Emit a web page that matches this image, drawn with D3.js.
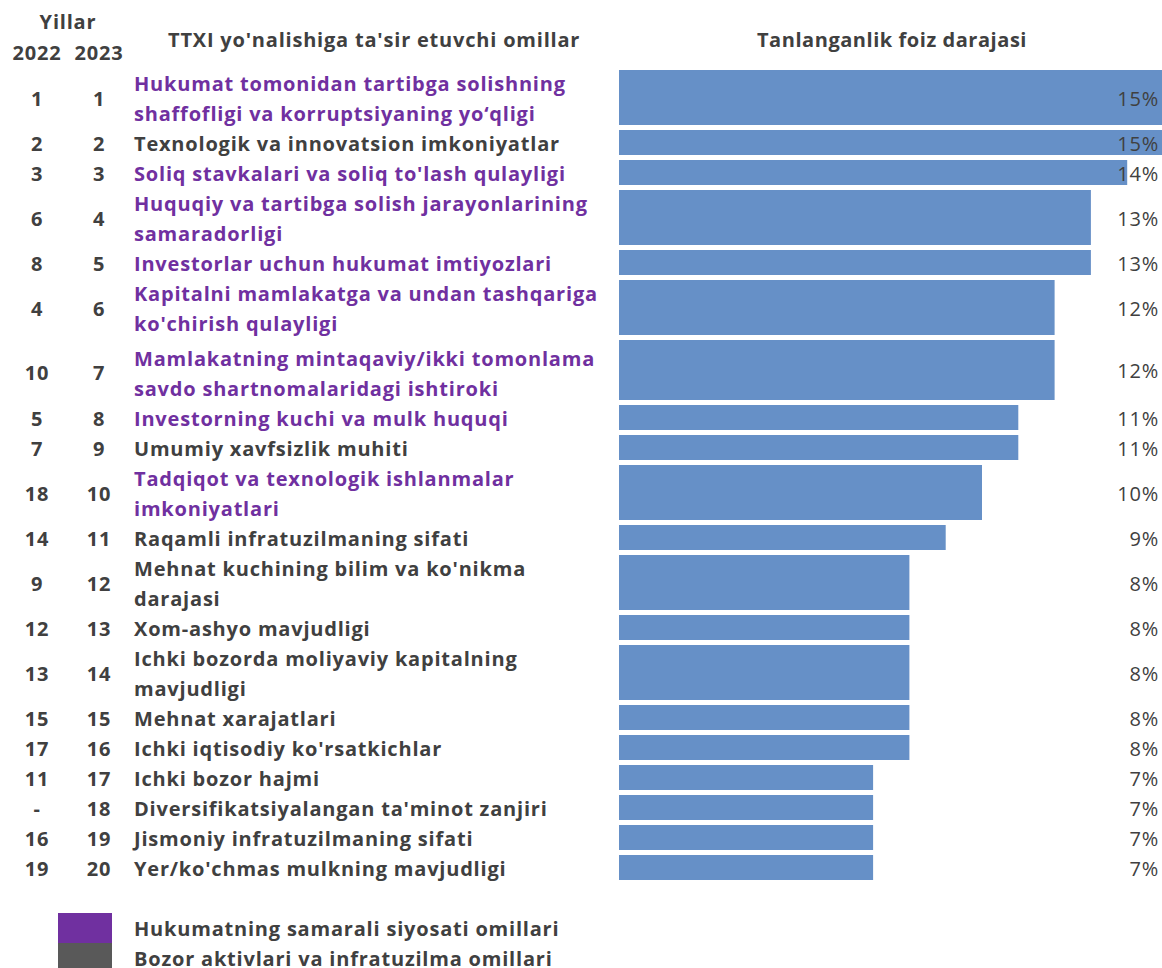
<!DOCTYPE html>
<html><head><meta charset="utf-8">
<script src="https://cdn.jsdelivr.net/npm/d3@7"></script>
<style>body{margin:0;background:#fff;} svg{display:block;}</style>
</head><body>
<svg id="chart" width="1162" height="968"></svg>
<script>
const labels = [
  "Hukumat tomonidan tartibga solishning\nshaffofligi va korruptsiyaning yo‘qligi",
  "Texnologik va innovatsion imkoniyatlar",
  "Soliq stavkalari va soliq to'lash qulayligi",
  "Huquqiy va tartibga solish jarayonlarining\nsamaradorligi",
  "Investorlar uchun hukumat imtiyozlari",
  "Kapitalni mamlakatga va undan tashqariga\nko'chirish qulayligi",
  "Mamlakatning mintaqaviy/ikki tomonlama\nsavdo shartnomalaridagi ishtiroki",
  "Investorning kuchi va mulk huquqi",
  "Umumiy xavfsizlik muhiti",
  "Tadqiqot va texnologik ishlanmalar\nimkoniyatlari",
  "Raqamli infratuzilmaning sifati",
  "Mehnat kuchining bilim va ko'nikma\ndarajasi",
  "Xom-ashyo mavjudligi",
  "Ichki bozorda moliyaviy kapitalning\nmavjudligi",
  "Mehnat xarajatlari",
  "Ichki iqtisodiy ko'rsatkichlar",
  "Ichki bozor hajmi",
  "Diversifikatsiyalangan ta'minot zanjiri",
  "Jismoniy infratuzilmaning sifati",
  "Yer/ko'chmas mulkning mavjudligi"
];
const values = [15,15,14,13,13,12,12,11,11,10,9,8,8,8,8,8,7,7,7,7];
const rank2022 = ["1","2","3","6","8","4","10","5","7","18","14","9","12","13","15","17","11","-","16","19"];
const rank2023 = ["1","2","3","4","5","6","7","8","9","10","11","12","13","14","15","16","17","18","19","20"];
const groups = ["gov","market","gov","gov","gov","gov","gov","gov","market","gov","market","market","market","market","market","market","market","market","market","market"];
const groupNames = ["Hukumatning samarali siyosati omillari","Bozor aktivlari va infratuzilma omillari"];
const headers = {years:"Yillar", y1:"2022", y2:"2023", factors:"TTXI yo'nalishiga ta'sir etuvchi omillar", pct:"Tanlanganlik foiz darajasi"};

const FONT = "'Open Sans', Lato, sans-serif";
const TXT = "#404040";
const FS = 20, LS = 0.8;
const color = d3.scaleOrdinal().domain(["gov","market"]).range(["#7030A0","#404040"]);
const legendColor = d3.scaleOrdinal().domain(groupNames).range(["#7030A0","#595959"]);

const svg = d3.select("#chart");

// layout
const top0 = 67.5, lineH = 30;
const rows = labels.map((l,i)=>{
  const n = l.split("\n").length;
  let h = n*lineH, t = 0;
  if (i===6) { h += 5; t = 3; }
  return {i, n, h, t};
});
let acc = top0;
rows.forEach(r=>{ r.y0 = acc; acc += r.h; r.y1 = acc; r.c = (r.y0+r.y1)/2; });

const x = d3.scaleLinear().domain([0,15]).range([619, 619+36.3*15]);
const dy = 0.5;

// headers
const hd = svg.append("g").attr("font-family",FONT).attr("font-weight","bold").attr("fill",TXT).attr("font-size",FS).attr("letter-spacing",LS);
hd.append("text").attr("x",68).attr("y",21).attr("text-anchor","middle").attr("dominant-baseline","central").text(headers.years);
hd.append("text").attr("x",37).attr("y",52).attr("text-anchor","middle").attr("dominant-baseline","central").text(headers.y1);
hd.append("text").attr("x",99).attr("y",52).attr("text-anchor","middle").attr("dominant-baseline","central").text(headers.y2);
hd.append("text").attr("x",168).attr("y",39).attr("dominant-baseline","central").text(headers.factors);
hd.append("text").attr("x",892).attr("y",39).attr("text-anchor","middle").attr("dominant-baseline","central").attr("letter-spacing",0.55).text(headers.pct);

// bars
svg.append("g").selectAll("rect").data(rows).join("rect")
  .attr("x",x(0)).attr("y",d=>d.y0+2.5)
  .attr("width",d=>x(values[d.i])-x(0)).attr("height",d=>d.h-5)
  .attr("fill","#6690C7");

// pct labels
svg.append("g").selectAll("text").data(rows).join("text")
  .attr("x",1159).attr("y",d=>d.c+dy).attr("text-anchor","end").attr("dominant-baseline","central")
  .attr("font-family",FONT).attr("font-size",FS).attr("letter-spacing",0.8).attr("fill",TXT)
  .text(d=>values[d.i]+"%");

// ranks
const rk = svg.append("g").attr("font-family",FONT).attr("font-weight","bold").attr("font-size",FS).attr("letter-spacing",LS).attr("fill",TXT).attr("text-anchor","middle");
rk.selectAll("text.r1").data(rows).join("text").attr("class","r1").attr("x",37).attr("y",d=>d.c+dy+d.t/2).attr("dominant-baseline","central").text(d=>rank2022[d.i]);
rk.selectAll("text.r2").data(rows).join("text").attr("class","r2").attr("x",99).attr("y",d=>d.c+dy+d.t/2).attr("dominant-baseline","central").text(d=>rank2023[d.i]);

// labels
const lb = svg.append("g").attr("font-family",FONT).attr("font-weight","bold").attr("font-size",FS).attr("letter-spacing",LS);
rows.forEach(r=>{
  const lines = labels[r.i].split("\n");
  lines.forEach((ln,k)=>{
    lb.append("text").attr("x",134).attr("y",r.c+dy+r.t+(k-(lines.length-1)/2)*lineH)
      .attr("dominant-baseline","central").attr("fill",color(groups[r.i])).text(ln);
  });
});

// legend
const lg = svg.append("g");
groupNames.forEach((g,k)=>{
  lg.append("rect").attr("x",58).attr("y",913+k*30).attr("width",54).attr("height",30).attr("fill",legendColor(g));
  lg.append("text").attr("x",134).attr("y",928+k*30).attr("dominant-baseline","central")
    .attr("font-family",FONT).attr("font-weight","bold").attr("font-size",FS).attr("letter-spacing",LS).attr("fill",TXT).text(g);
});
</script>
</body></html>
